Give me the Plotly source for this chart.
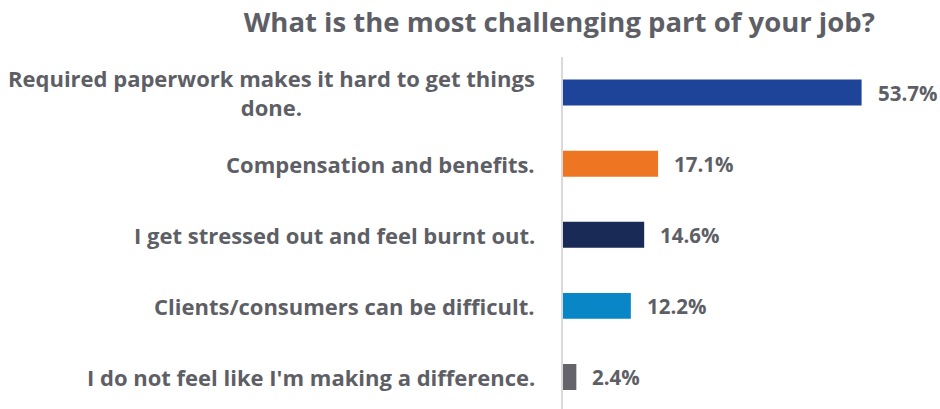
import plotly.graph_objects as go

categories = [
    "Required paperwork makes it hard to get things<br>done.",
    "Compensation and benefits.",
    "I get stressed out and feel burnt out.",
    "Clients/consumers can be difficult.",
    "I do not feel like I'm making a difference.",
]
values = [53.7, 17.1, 14.6, 12.2, 2.4]
value_labels = ["53.7%", "17.1%", "14.6%", "12.2%", "2.4%"]
colors = ["#1E449A", "#EE7623", "#1A2A56", "#0986C6", "#64646A"]

TEXT = "#5E5F66"
FONT = "Open Sans"

fig = go.Figure(
    go.Bar(
        x=values,
        y=categories,
        orientation="h",
        marker=dict(color=colors, line=dict(width=0)),
        hoverinfo="skip",
    )
)

for c, v, t in zip(categories, values, value_labels):
    fig.add_annotation(
        x=v, y=c, xref="x", yref="y", text=t, showarrow=False,
        xanchor="left", xshift=14,
        font=dict(family=FONT, size=20.5, color=TEXT, weight="bold"),
    )
    fig.add_annotation(
        x=0, y=c, xref="paper", yref="y", text=c, showarrow=False,
        xanchor="right", xshift=-26, align="center",
        font=dict(family=FONT, size=22, color=TEXT, weight="bold"),
    )

fig.update_layout(
    width=940, height=409,
    margin=dict(l=563, r=0, t=57, b=0),
    paper_bgcolor="white", plot_bgcolor="white",
    bargap=0.635,
    showlegend=False,
    title=dict(
        text="What is the most challenging part of your job?",
        x=0.595, xanchor="center", y=0.945, yanchor="middle",
        font=dict(family=FONT, size=27.5, color=TEXT, weight="bold"),
    ),
    xaxis=dict(range=[0, 67.8], visible=False, fixedrange=True),
    yaxis=dict(
        categoryorder="array", categoryarray=categories,
        range=[4.45, -0.5],
        showticklabels=False, showgrid=False, zeroline=False,
        showline=True, linecolor="#D9D9D9", linewidth=2,
        ticks="",
    ),
)

fig.write_html("out.html")
